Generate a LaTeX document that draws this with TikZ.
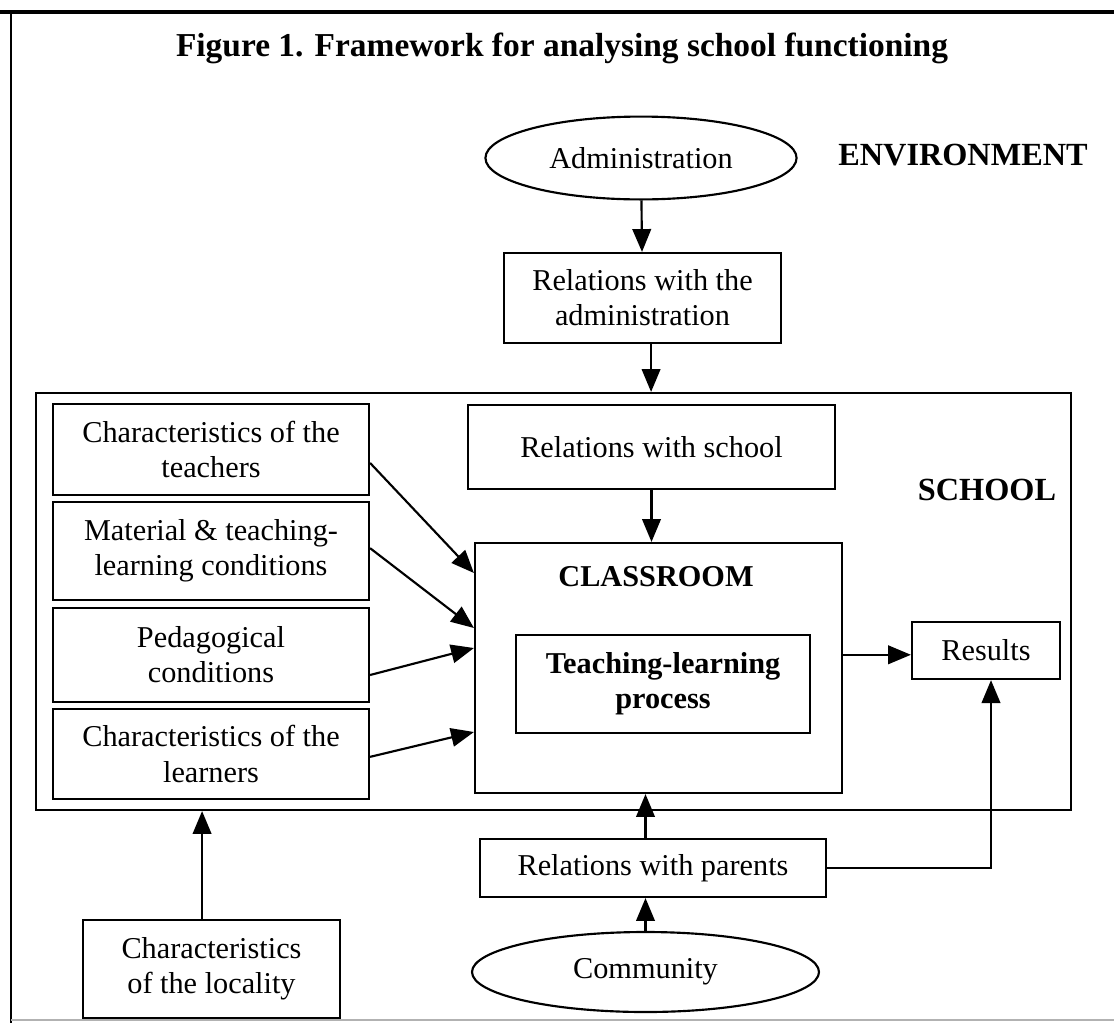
\documentclass[tikz,border=0pt]{standalone}
\usepackage{fontspec}
\setmainfont{Liberation Serif}
\usetikzlibrary{arrows.meta,positioning,shapes.geometric}

\tikzset{
  box/.style={draw,line width=0.75pt,align=center,inner sep=0pt,font=\bodyfont},
  oval/.style={ellipse,draw,line width=0.75pt,inner sep=0pt,font=\bodyfont},
  arr/.style={line width=0.75pt,-{Triangle[length=8pt,width=6.5pt]}},
  head/.style={font=\fontsize{11.3}{13}\selectfont\bfseries}
}
\newcommand{\bodyfont}{\fontsize{10.6}{12.3}\selectfont}

\begin{document}
\begin{tikzpicture}[x=0.35pt,y=-0.35pt]
  \useasboundingbox (0,0) rectangle (1114,1023);
  % frame of the figure
  \draw[line width=1.1pt] (0,12) -- (1114,12);
  \draw[line width=0.75pt] (11,12) -- (11,1023);
  \draw[gray!60,line width=0.5pt] (11,1020) -- (1114,1020);

  \node[font=\fontsize{11.7}{14}\selectfont\bfseries] (title) at (562,48)
    {Figure 1. Framework for analysing school functioning};

  % environment
  \node[oval,minimum width=108.9pt,minimum height=29pt] (admin) at (641,158) {Administration};
  \node[head] (env) at (963,155) {ENVIRONMENT};
  \node[box,minimum width=97pt,minimum height=31.5pt] (reladmin) at (642.5,298)
    {Relations with the\\administration};

  % school
  \node[draw,line width=0.75pt,minimum width=362.25pt,minimum height=145.95pt] (school) at (553.5,601.5) {};
  \node[head] (schoollbl) at (987,490) {SCHOOL};
  \node[box,minimum width=128.45pt,minimum height=29.4pt] (relschool) at (651.5,447) {Relations with school};

  \node[draw,line width=0.75pt,minimum width=128.45pt,minimum height=87.5pt] (classroom) at (658.5,668) {};
  \node[font=\fontsize{10.6}{12.3}\selectfont\bfseries] (classlbl) at (656,577) {CLASSROOM};
  \node[box,font=\fontsize{10.6}{12.3}\selectfont\bfseries,minimum width=102.9pt,minimum height=34.3pt] (process) at (663,684)
    {Teaching-learning\\process};
  \node[box,minimum width=51.8pt,minimum height=20pt] (results) at (986,650.5) {Results};

  \node[box,minimum width=110.6pt,minimum height=31.85pt] (teachers) at (211,449.5) {Characteristics of the\\teachers};
  \node[box,minimum width=110.6pt,minimum height=34.3pt] (material) at (211,551) {Material \& teaching-\\learning conditions};
  \node[box,minimum width=110.6pt,minimum height=32.9pt] (pedago) at (211,655) {Pedagogical\\conditions};
  \node[box,minimum width=110.6pt,minimum height=31.5pt] (learners) at (211,754) {Characteristics of the\\learners};

  % outside, below
  \node[box,minimum width=90pt,minimum height=34.3pt] (locality) at (211.5,969) {Characteristics\\of the locality};
  \node[box,minimum width=121.1pt,minimum height=20.3pt] (parents) at (653,868) {Relations with parents};
  \node[oval,minimum width=121.45pt,minimum height=28pt] (community) at (645.5,972) {Community};

  % connectors
  \draw[arr] (admin) -- (reladmin);
  \draw[arr] ([xshift=3pt]reladmin.south) -- ([xshift=3pt]reladmin.south |- school.north);
  \draw[arr] (relschool.south) -- (relschool.south |- classroom.north);

  \draw[arr] ([yshift=-4.7pt]teachers.east) -- ([yshift=33.25pt]classroom.west);
  \draw[arr] ([yshift=1pt]material.east) -- ([yshift=14pt]classroom.west);
  \draw[arr] ([yshift=-7pt]pedago.east) -- ([yshift=7pt]classroom.west);
  \draw[arr] ([yshift=-1pt]learners.east) -- ([yshift=-22.4pt]classroom.west);

  \draw[arr] ([yshift=-1.5pt]classroom.east |- results) -- ([yshift=-1.5pt]results.west);

  \draw[arr] ([xshift=-3.3pt]locality.north) -- ([xshift=-3.3pt]locality.north |- school.south);
  \draw[arr] (parents.north -| community) -- (community |- classroom.south);
  \draw[arr] (community.north) -- (community.north |- parents.south);
  \draw[arr] (parents.east) -| ([xshift=1.75pt]results.south);
\end{tikzpicture}
\end{document}
